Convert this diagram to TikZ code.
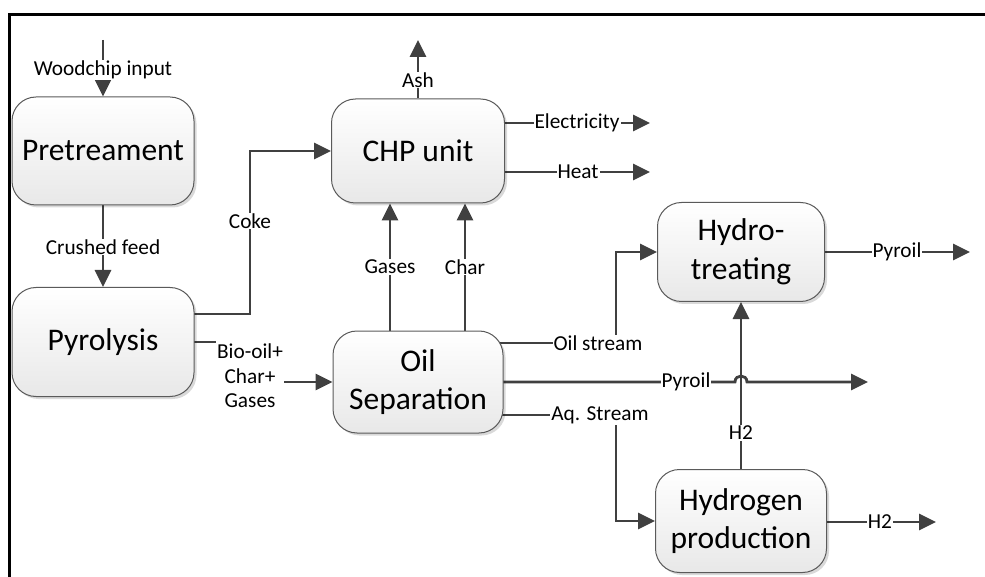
\documentclass[tikz,border=0pt]{standalone}
\usepackage{fontspec}
\setmainfont{Carlito}
\usetikzlibrary{arrows.meta,shadows,backgrounds}
\definecolor{conn}{HTML}{404040}
\definecolor{boxline}{HTML}{5A5A5A}
\begin{document}
\begin{tikzpicture}[x=1pt,y=-1pt,
  proc/.style={rectangle, rounded corners=24pt, draw=boxline, line width=1pt,
    top color=white, bottom color=black!9,
    drop shadow={shadow xshift=2.5pt, shadow yshift=-2.5pt, fill=black, opacity=0.15},
    inner sep=0pt, align=center, font=\fontsize{31.5}{38.5}\selectfont},
  lbl/.style={fill=white, inner sep=1pt, font=\fontsize{21.3}{24.5}\selectfont, align=center},
  arr/.style={draw=conn, line width=2.8pt, -{Triangle[length=17pt,width=16pt]}}]
\useasboundingbox (0,0) rectangle (985,577);
% frame
\draw[line width=3pt] (9,577) -- (9,15) -- (985,15);
% process boxes
\node[proc, minimum width=182pt, minimum height=108pt] (pre) at (103,151) {Pretreament};
\node[proc, minimum width=182pt, minimum height=109pt] (pyro) at (103,342) {Pyrolysis};
\node[proc, minimum width=173pt, minimum height=104pt] (chp) at (418,151) {CHP unit};
\node[proc, minimum width=170pt, minimum height=102pt] (oil) at (418,382) {Oil\\Separation};
\node[proc, minimum width=167pt, minimum height=99pt] (hydro) at (741,252) {Hydro-\\treating};
\node[proc, minimum width=171pt, minimum height=103pt] (h2p) at (741,521) {Hydrogen\\production};
% helper coordinates
\coordinate (woodin) at (103,40);
\coordinate (ashend) at (418,40);
\coordinate (elecend) at (650,123);
\coordinate (heatend) at (650,172);
\coordinate (cokecorner) at (250,314);
\coordinate (biocorner) at (250,342);
\coordinate (oscorner) at (616,343);
\coordinate (aqcorner) at (616,415);
\coordinate (hopL) at (735,382);
\coordinate (hopR) at (747,382);
\coordinate (pyend) at (868,382);
\coordinate (hpyend) at (970,252);
\coordinate (h2end) at (936,522);
% connectors
\begin{scope}[on background layer]
\draw[arr] (woodin) -- (pre.north);
\draw[arr] (chp.north) -- (ashend);
\draw[arr] (chp.center |- elecend) -- (elecend);
\draw[arr] (chp.center |- heatend) -- (heatend);
\draw[arr] (pre.south) -- (pyro.north);
\draw[arr] (pyro.center |- cokecorner) -- (cokecorner) |- (chp.west);
\draw[arr] (pyro.center) -- (biocorner) |- (oil.west);
\draw[arr] ([xshift=-28pt]oil.center) -- ([xshift=-28pt]oil.center |- chp.south);
\draw[arr] ([xshift=47pt]oil.center) -- ([xshift=47pt]oil.center |- chp.south);
\draw[arr] (oil.center |- oscorner) -- (oscorner) |- (hydro.west);
\draw[arr] (h2p.north) -- (hydro.south);
\draw[arr] (oil.center) -- (hopL) .. controls ([yshift=8pt]hopL) and ([yshift=8pt]hopR) .. (hopR) -- (pyend);
\draw[arr] (oil.center |- aqcorner) -- (aqcorner) |- (h2p.west);
\draw[arr] (hydro.center) -- (hpyend);
\draw[arr] (h2p.center |- h2end) -- (h2end);
\end{scope}
% labels
\node[lbl] (lwood) at (103,70) {Woodchip input};
\node[lbl] (lash) at (418,80) {Ash};
\node[lbl] (lelec) at (577,123) {Electricity};
\node[lbl] (lheat) at (578,172) {Heat};
\node[lbl] (lcrush) at (103,247) {Crushed feed};
\node[lbl] (lcoke) at (250,221) {Coke};
\node[lbl, inner ysep=5pt] (lbio) at (250,376) {Bio-oil+\\Char+\\Gases};
\node[lbl] (lgas) at (390,267) {Gases};
\node[lbl] (lchar) at (465,267) {Char};
\node[lbl] (los) at (598,343) {Oil stream};
\node[lbl] (lpy1) at (686,382) {Pyroil};
\node[lbl] (laq) at (600,415) {Aq. Stream};
\node[lbl] (lh2a) at (741,433) {H2};
\node[lbl] (lpy2) at (897,252) {Pyroil};
\node[lbl] (lh2b) at (880,522) {H2};
\end{tikzpicture}
\end{document}
